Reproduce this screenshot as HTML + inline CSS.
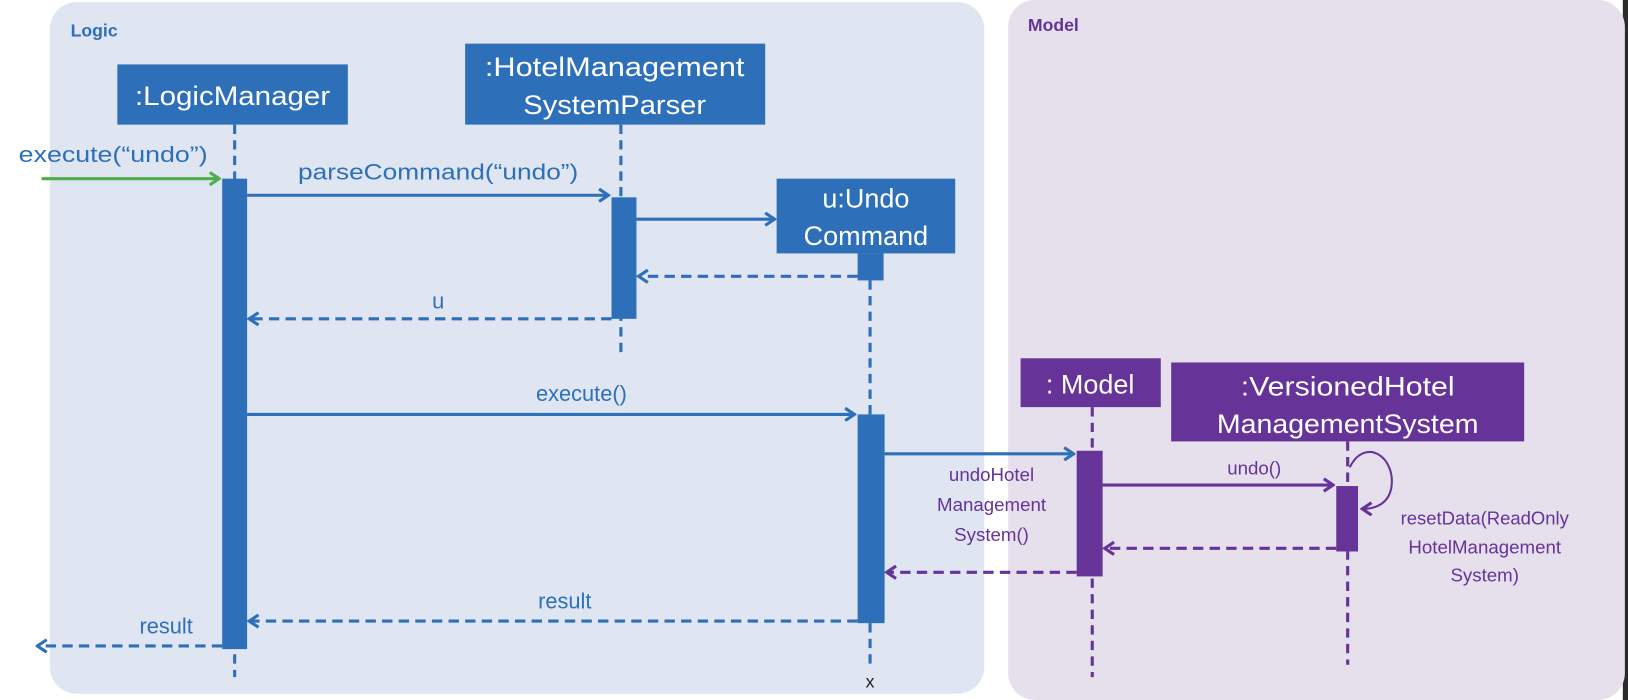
<!DOCTYPE html>
<html><head><meta charset="utf-8"><style>
html,body{margin:0;padding:0;background:#fff;}
svg{display:block}
text{font-family:"Liberation Sans",sans-serif;}
</style></head><body>
<svg width="1628" height="700" viewBox="0 0 1568 674" preserveAspectRatio="none" xmlns="http://www.w3.org/2000/svg">
<defs>
<marker id="ab" markerWidth="12" markerHeight="14" refX="10" refY="7" orient="auto" markerUnits="userSpaceOnUse"><path d="M1,1 L10,7 L1,13" fill="none" stroke="#2e6fba" stroke-width="3"/></marker>
<marker id="ag" markerWidth="12" markerHeight="14" refX="10" refY="7" orient="auto" markerUnits="userSpaceOnUse"><path d="M1,1 L10,7 L1,13" fill="none" stroke="#4cae4c" stroke-width="3"/></marker>
<marker id="ap" markerWidth="12" markerHeight="14" refX="10" refY="7" orient="auto" markerUnits="userSpaceOnUse"><path d="M1,1 L10,7 L1,13" fill="none" stroke="#663399" stroke-width="3"/></marker>
</defs>
<rect x="1563" y="0" width="6" height="674" fill="#2a2a2a"/>
<rect x="48" y="2" width="900" height="666" rx="26" fill="#dfe6f1"/>
<rect x="971" y="0" width="594" height="674" rx="26" fill="#e5e0ec"/>
<text x="68" y="35" font-size="17" font-weight="bold" fill="#2e6fba">Logic</text>
<text x="990" y="30" font-size="17" font-weight="bold" fill="#663399">Model</text>

<g stroke-width="3" stroke-dasharray="9,6" fill="none">
<line x1="226" y1="120" x2="226" y2="652" stroke="#2e6fba"/>
<line x1="598" y1="120" x2="598" y2="340" stroke="#2e6fba"/>
<line x1="838" y1="270" x2="838" y2="640" stroke="#2e6fba"/>
<line x1="1052" y1="392" x2="1052" y2="652" stroke="#663399"/>
<line x1="1298" y1="425" x2="1298" y2="640" stroke="#663399"/>
</g>

<rect x="113" y="62" width="222" height="58" fill="#2e6fba"/>
<text x="224" y="101" font-size="26" fill="#fff" text-anchor="middle" textLength="188" lengthAdjust="spacingAndGlyphs">:LogicManager</text>
<rect x="448" y="42" width="289" height="78" fill="#2e6fba"/>
<text x="592" y="73" font-size="26" fill="#fff" text-anchor="middle" textLength="250" lengthAdjust="spacingAndGlyphs">:HotelManagement</text>
<text x="592" y="110" font-size="26" fill="#fff" text-anchor="middle" textLength="176" lengthAdjust="spacingAndGlyphs">SystemParser</text>
<rect x="748" y="172" width="172" height="72" fill="#2e6fba"/>
<text x="834" y="200" font-size="26" fill="#fff" text-anchor="middle">u:Undo</text>
<text x="834" y="236" font-size="26" fill="#fff" text-anchor="middle">Command</text>
<rect x="826" y="244" width="25" height="26" fill="#2e6fba"/>
<rect x="983" y="345" width="135" height="47" fill="#663399"/>
<text x="1050" y="379" font-size="26" fill="#fff" text-anchor="middle">: Model</text>
<rect x="1128" y="349" width="340" height="76" fill="#663399"/>
<text x="1298" y="381" font-size="26" fill="#fff" text-anchor="middle" textLength="206" lengthAdjust="spacingAndGlyphs">:VersionedHotel</text>
<text x="1298" y="417" font-size="26" fill="#fff" text-anchor="middle" textLength="252" lengthAdjust="spacingAndGlyphs">ManagementSystem</text>

<rect x="214" y="172" width="24" height="453" fill="#2e6fba"/>
<rect x="589" y="190" width="24" height="117" fill="#2e6fba"/>
<rect x="826" y="399" width="26" height="201" fill="#2e6fba"/>
<rect x="1037" y="434" width="25" height="121" fill="#663399"/>
<rect x="1287" y="468" width="21" height="63" fill="#663399"/>

<g stroke-width="3" fill="none">
<line x1="40" y1="172" x2="211" y2="172" stroke="#4cae4c" marker-end="url(#ag)"/>
<line x1="238" y1="188" x2="586" y2="188" stroke="#2e6fba" marker-end="url(#ab)"/>
<line x1="613" y1="211" x2="746" y2="211" stroke="#2e6fba" marker-end="url(#ab)"/>
<line x1="826" y1="266" x2="615" y2="266" stroke="#2e6fba" stroke-dasharray="10,6" marker-end="url(#ab)"/>
<line x1="589" y1="307" x2="240" y2="307" stroke="#2e6fba" stroke-dasharray="10,6" marker-end="url(#ab)"/>
<line x1="238" y1="399" x2="823" y2="399" stroke="#2e6fba" marker-end="url(#ab)"/>
<line x1="852" y1="437" x2="1034" y2="437" stroke="#2e6fba" marker-end="url(#ab)"/>
<line x1="1062" y1="467" x2="1284" y2="467" stroke="#663399" marker-end="url(#ap)"/>
<line x1="1287" y1="528" x2="1064" y2="528" stroke="#663399" stroke-dasharray="10,6" marker-end="url(#ap)"/>
<line x1="1037" y1="551" x2="854" y2="551" stroke="#663399" stroke-dasharray="10,6" marker-end="url(#ap)"/>
<line x1="826" y1="598" x2="240" y2="598" stroke="#2e6fba" stroke-dasharray="10,6" marker-end="url(#ab)"/>
<line x1="214" y1="622" x2="36" y2="622" stroke="#2e6fba" stroke-dasharray="10,6" marker-end="url(#ab)"/>
<path d="M1300,450 C1315,420 1345,440 1340,470 C1337,485 1325,490 1312,490" stroke="#663399" stroke-width="2" marker-end="url(#ap)"/>
</g>

<g font-size="21" fill="#2e6fba" text-anchor="middle">
<text x="109" y="156" textLength="182" lengthAdjust="spacingAndGlyphs">execute(“undo”)</text>
<text x="422" y="173" textLength="270" lengthAdjust="spacingAndGlyphs">parseCommand(“undo”)</text>
<text x="422" y="297">u</text>
<text x="560" y="386">execute()</text>
<text x="544" y="586">result</text>
<text x="160" y="610">result</text>
</g>
<g font-size="18" fill="#663399" text-anchor="middle">
<text x="955" y="463">undoHotel</text>
<text x="955" y="492">Management</text>
<text x="955" y="521">System()</text>
<text x="1208" y="457">undo()</text>
<text x="1430" y="505" textLength="162" lengthAdjust="spacingAndGlyphs">resetData(ReadOnly</text>
<text x="1430" y="533">HotelManagement</text>
<text x="1430" y="560">System)</text>
</g>
<text x="838" y="662" font-size="17" fill="#222" text-anchor="middle">x</text>
</svg>
</body></html>
